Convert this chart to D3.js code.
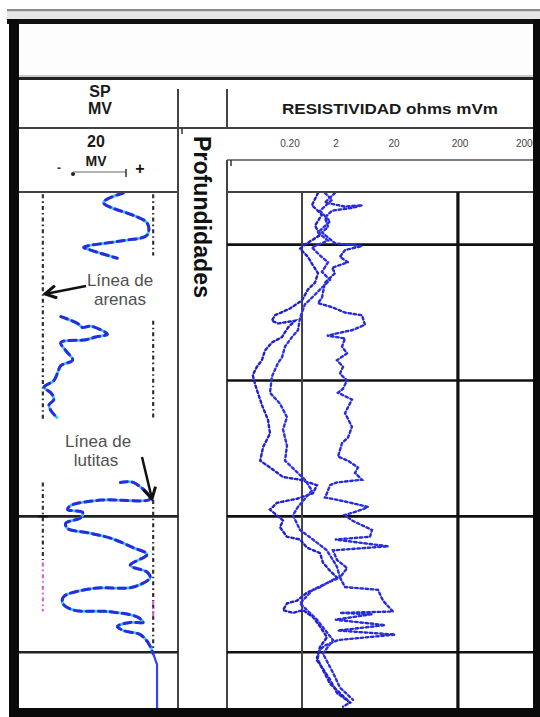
<!DOCTYPE html>
<html><head><meta charset="utf-8">
<script src="https://cdn.jsdelivr.net/npm/d3@7"></script>
<style>body{margin:0;background:#fff}svg{display:block}</style>
</head><body>
<svg id="c" width="540" height="717"></svg>
<script>
// ---------------- DATA ----------------
const depthGridLines = [5000, 5100, 5200, 5300];      // ft, resistivity track
const spGridLines = [5200, 5300];                      // ft, SP track
const resTickValues = [0.2, 2, 20, 200, 2000];         // ohm-m
const resTickLabels = ["0.20", "2", "20", "200", "2000"];
const resGridValues = [0.365, 186];                    // ohm-m vertical grid
const sandLineMV = -60;                                // Línea de arenas
const shaleLineMV = -20;                               // Línea de lutitas
const sandLineRanges = [[4963, 5129], [5175, 5232]];
const sandLineRangesPink = [[5234, 5270]];
const shaleLineRanges = [[4963, 5008], [5056, 5129], [5188, 5298]];
const shaleLineRangesPink = [[5262, 5276]];

// SP curve [depth ft, mV]
const spSeg1 = [[4962,-30.8],[4969,-38.0],[4984,-22.2],[4993,-22.2],[4997,-30.8],[5002,-45.2],[5004,-42.7],[5010,-33.0]];
const spSeg2 = [[5053,-53.5],[5058,-47.4],[5061,-45.6],[5060,-42.7],[5066,-36.6],[5068,-40.9],[5070,-44.5],[5072,-53.5],[5078,-51.7],[5085,-49.2],[5089,-53.5],[5094,-54.6],[5100,-56.0],[5105,-59.6],[5109,-57.1],[5114,-56.0],[5118,-57.8],[5122,-57.1],[5128,-54.6]];
const spSeg3 = [[5175,-31.9],[5175,-27.2],[5187,-21.1],[5188,-39.1],[5192,-49.9],[5195,-51.0],[5197,-45.6],[5201,-46.3],[5205,-51.7],[5209,-51.0],[5212,-43.8],[5216,-35.5],[5223,-27.2],[5228,-22.2],[5236,-28.3],[5241,-22.2],[5245,-21.1],[5252,-27.2],[5253,-41.6],[5259,-52.4],[5264,-52.8],[5269,-48.8],[5270,-36.6],[5274,-25.8],[5278,-23.6],[5278,-28.3],[5281,-33.0],[5284,-30.8],[5287,-24.7],[5293,-21.8],[5301,-20.0]];
const spTail = [[5301,-20.0],[5309,-18.6],[5341,-18.6]];

// Resistivity curves [depth ft, ohm-m]
const resDeep = [[4962,1.90],[4969,1.15],[4972,2.86],[4971,5.62],[4973,3.77],[4975,1.64],[4980,1.15],[4987,1.34],[4991,0.99],[4999,1.90],[5001,5.62],[5004,2.86],[5009,2.34],[5013,3.22],[5017,1.64],[5021,1.90],[5028,1.15],[5039,0.99],[5043,0.81],[5046,1.64],[5050,2.86],[5052,5.62],[5059,6.32],[5063,3.77],[5064,2.86],[5067,1.27],[5069,2.86],[5075,2.54],[5080,3.10],[5085,2.08],[5090,2.64],[5095,2.34],[5100,3.10],[5106,2.64],[5109,2.17],[5114,3.77],[5124,2.86],[5134,3.77],[5142,3.22],[5146,2.54],[5156,2.17],[5159,3.22],[5164,4.79],[5168,4.25],[5173,5.62],[5175,2.08],[5177,1.48],[5183,1.27],[5186,1.15],[5189,2.86],[5193,7.12],[5195,5.62],[5199,2.86],[5203,3.77],[5210,8.35],[5215,7.71],[5217,1.90],[5222,15.8],[5225,1.72],[5232,2.08],[5238,3.10],[5245,2.34],[5252,2.86],[5254,10.6],[5262,12.9],[5270,19.2],[5271,2.34],[5272,8.35],[5276,1.90],[5280,14.0],[5284,2.17],[5287,20.7],[5291,2.17],[5295,1.15],[5298,0.90],[5306,0.77],[5311,0.99],[5320,1.48],[5330,2.08],[5337,3.49],[5340,2.64]];
const resShallow1 = [[4962,0.81],[4971,0.60],[4978,0.99],[4986,0.70],[4993,0.90],[5000,0.42],[5003,0.33],[5009,0.49],[5014,0.60],[5021,0.81],[5028,0.70],[5033,0.49],[5041,0.365],[5047,0.20],[5052,0.094],[5056,0.081],[5058,0.11],[5056,0.257],[5061,0.181],[5068,0.134],[5072,0.081],[5078,0.057],[5085,0.049],[5090,0.038],[5096,0.031],[5103,0.035],[5109,0.040],[5118,0.049],[5129,0.0665],[5139,0.0735],[5149,0.052],[5159,0.045],[5164,0.0735],[5171,0.141],[5173,0.33],[5177,0.77],[5183,0.63],[5187,0.284],[5190,0.104],[5195,0.0735],[5203,0.141],[5208,0.121],[5215,0.172],[5217,0.33],[5223,0.47],[5227,0.90],[5234,1.04],[5240,1.48],[5245,2.08],[5252,0.90],[5256,0.47],[5262,0.284],[5264,0.172],[5269,0.141],[5271,0.232],[5269,0.383],[5274,0.63],[5281,0.90],[5289,1.27],[5296,0.90],[5304,0.77],[5313,1.04],[5323,1.48],[5330,2.34],[5337,3.49]];
const resShallow2 = [[4962,1.15],[4967,1.64],[4975,0.90],[4983,1.48],[4991,0.81],[4997,1.34],[5002,0.60],[5008,0.90],[5013,1.34],[5020,0.99],[5026,1.48],[5033,0.90],[5039,0.60],[5044,0.42],[5054,0.33],[5063,0.298],[5068,0.221],[5075,0.156],[5083,0.134],[5087,0.110],[5097,0.081],[5109,0.0735],[5117,0.121],[5127,0.172],[5136,0.141],[5148,0.172],[5159,0.156],[5166,0.257],[5173,0.42],[5181,0.60],[5187,0.42],[5193,0.298],[5199,0.232],[5210,0.33],[5217,0.63],[5225,1.27],[5237,2.08],[5245,2.34],[5249,1.27],[5254,0.63],[5264,0.33],[5276,0.77],[5291,1.72],[5301,1.04],[5315,1.72],[5326,2.34],[5335,3.93]];

// ---------------- SCALES ----------------
const y = d3.scaleLinear().domain([4962, 5341]).range([193, 708]);
const xSP = d3.scaleLinear().domain([-68.65, -11]).range([19, 178]);
const xRes = d3.scaleLog().domain(resTickValues).range([290, 336, 394, 460, 527]);

const FONT = "'Liberation Sans', Arial, sans-serif";
const svg = d3.select("#c");
const defs = svg.append("defs");
defs.append("clipPath").attr("id","clipSP").append("rect").attr("x",19).attr("y",193).attr("width",159).attr("height",515);
defs.append("clipPath").attr("id","clipRes").append("rect").attr("x",228).attr("y",193).attr("width",305).attr("height",515);
defs.append("marker").attr("id","arr").attr("viewBox","0 0 12 12").attr("refX",10).attr("refY",6)
  .attr("markerWidth",6).attr("markerHeight",6).attr("orient","auto").attr("markerUnits","strokeWidth")
  .append("path").attr("d","M1,1 L10,6 L1,11").attr("fill","none").attr("stroke","#111").attr("stroke-width",2.4);

svg.append("rect").attr("width",540).attr("height",717).attr("fill","#fff");

// top bands
svg.append("rect").attr("x",7).attr("y",9).attr("width",533).attr("height",2.5).attr("fill","#8a8a8a");
svg.append("rect").attr("x",7).attr("y",11.5).attr("width",533).attr("height",8).attr("fill","#e6e6e6");
svg.append("rect").attr("x",19).attr("y",24).attr("width",514).attr("height",52).attr("fill","#fdfdfd");
svg.append("line").attr("x1",19).attr("x2",533).attr("y1",76).attr("y2",76).attr("stroke","#999").attr("stroke-width",1);
svg.append("rect").attr("x",9).attr("y",77).attr("width",526).attr("height",3).attr("fill","#222");

const g = svg.append("g");
function hline(x1,x2,yy,w,c){ g.append("line").attr("x1",x1).attr("x2",x2).attr("y1",yy).attr("y2",yy).attr("stroke",c).attr("stroke-width",w); }
function vline(xx,y1,y2,w,c){ g.append("line").attr("x1",xx).attr("x2",xx).attr("y1",y1).attr("y2",y2).attr("stroke",c).attr("stroke-width",w); }

// header structure
vline(178, 89, 708, 2, "#444");
vline(227, 89, 128, 2, "#444");
vline(227, 160, 708, 2, "#444");
hline(19, 533, 128, 2, "#444");
hline(227, 533, 160, 1.6, "#555");
hline(19, 178, 192, 2, "#444");
hline(227, 533, 192, 2, "#444");
vline(182, 128, 134, 1.5, "#333");
vline(231, 160, 166, 1.5, "#333");

function txt(t,x,yy,size,weight,fill,anchor){ return g.append("text").attr("x",x).attr("y",yy).attr("font-family",FONT).attr("font-size",size).attr("font-weight",weight).attr("fill",fill).attr("text-anchor",anchor||"middle").text(t); }
txt("SP", 100, 97, 16, "bold", "#1a1a1a");
txt("MV", 100, 114, 16, "bold", "#1a1a1a");
txt("RESISTIVIDAD ohms mVm", 282, 114, 15, "bold", "#1a1a1a", "start").attr("textLength",216).attr("lengthAdjust","spacingAndGlyphs");
txt("20", 96, 147, 16, "bold", "#1a1a1a");
txt("MV", 96, 166, 14, "bold", "#1a1a1a");
txt("-", 59, 172, 12, "bold", "#333");
g.append("circle").attr("cx",73).attr("cy",174).attr("r",2).attr("fill","#222");
hline(73, 126, 172, 1, "#666");
vline(126, 169, 177, 1.5, "#333");
txt("+", 140, 174, 16, "bold", "#111");

// resistivity tick labels
g.selectAll(".rt").data(resTickValues).join("text")
  .attr("x", d => xRes(d)).attr("y", 147).attr("text-anchor","middle")
  .attr("font-family",FONT).attr("font-size",10).attr("fill","#444")
  .text((d,i) => resTickLabels[i]);

g.append("text").attr("transform","translate(194,217) rotate(90)")
  .attr("text-anchor","middle").attr("font-family",FONT).attr("font-size",23).attr("font-weight","bold")
  .attr("fill","#111").attr("textLength",162).attr("lengthAdjust","spacingAndGlyphs").text("Profundidades");

// ---- grid ----
depthGridLines.forEach(d => hline(227, 533, y(d), 2.6, "#111"));
spGridLines.forEach(d => hline(19, 178, y(d), 2.6, "#222"));
vline(xRes(resGridValues[0]), 192, 708, 2, "#444");
vline(xRes(resGridValues[1]), 192, 708, 3.2, "#111");

// ---- SP baselines ----
const gSP = svg.append("g").attr("clip-path","url(#clipSP)");
function baseLine(mv, ranges, color){
  ranges.forEach(r => gSP.append("line").attr("x1",xSP(mv)).attr("x2",xSP(mv)).attr("y1",y(r[0])).attr("y2",y(r[1]))
    .attr("stroke",color).attr("stroke-width",2.2).attr("stroke-dasharray","4,3,1.6,3"));
}
baseLine(sandLineMV, sandLineRanges, "#333");
baseLine(sandLineMV, sandLineRangesPink, "#e060d8");
baseLine(shaleLineMV, shaleLineRanges, "#333");
baseLine(shaleLineMV, shaleLineRangesPink, "#e060d8");
gSP.append("line").attr("x1",xSP(sandLineMV)-5).attr("x2",xSP(sandLineMV)+5).attr("y1",y(5200)).attr("y2",y(5200)).attr("stroke","#111").attr("stroke-width",2);

// ---- SP curve ----
const spLine = d3.line().x(d => xSP(d[1])).y(d => y(d[0])).curve(d3.curveCatmullRom.alpha(0.5));
[spSeg1, spSeg2, spSeg3].forEach(seg => {
  gSP.append("path").attr("d", spLine(seg)).attr("fill","none").attr("stroke","#38c8f4").attr("stroke-width",2.8).attr("stroke-linejoin","round");
  gSP.append("path").attr("d", spLine(seg)).attr("fill","none").attr("stroke","#2a2ae0").attr("stroke-width",3).attr("stroke-dasharray","7,5").attr("stroke-linecap","round");
});
gSP.append("path").attr("d", d3.line().x(d => xSP(d[1])).y(d => y(d[0]))(spTail)).attr("fill","none").attr("stroke","#3344ff").attr("stroke-width",2.2);

// ---- Resistivity curves ----
const gR = svg.append("g").attr("clip-path","url(#clipRes)");
const resLine = d3.line().x(d => xRes(d[1])).y(d => y(d[0]));
[[resDeep,"#52d2f6","#2a2ad8"],[resShallow1,"#a9bcff","#2020d0"],[resShallow2,"#8fd4fa","#2e2ee6"]].forEach(([data,base,top]) => {
  gR.append("path").attr("d", resLine(data)).attr("fill","none").attr("stroke",base).attr("stroke-width",1).attr("stroke-opacity",0.8).attr("stroke-linejoin","round");
  gR.append("path").attr("d", resLine(data)).attr("fill","none").attr("stroke",top).attr("stroke-width",2.4).attr("stroke-dasharray","2.4,2.8").attr("stroke-linecap","round");
});

// ---- annotations ----
txt("Línea de", 120, 286, 17, "normal", "#505050");
txt("arenas", 120, 305, 17, "normal", "#505050");
g.append("line").attr("x1",86).attr("y1",286).attr("x2",45).attr("y2",294).attr("stroke","#111").attr("stroke-width",2.5).attr("marker-end","url(#arr)");
const gA = svg.append("g");
gA.append("text").attr("x",98).attr("y",447).attr("text-anchor","middle").attr("font-family",FONT).attr("font-size",17).attr("fill","#505050").text("Línea de");
gA.append("text").attr("x",96).attr("y",466).attr("text-anchor","middle").attr("font-family",FONT).attr("font-size",17).attr("fill","#505050").text("lutitas");
gA.append("line").attr("x1",142).attr("y1",457).attr("x2",152).attr("y2",499).attr("stroke","#111").attr("stroke-width",2.5).attr("marker-end","url(#arr)");

// ---- outer frame ----
svg.append("rect").attr("x",7).attr("y",19).attr("width",533).attr("height",5).attr("fill","#111");
svg.append("rect").attr("x",9).attr("y",19).attr("width",10).attr("height",698).attr("fill","#0a0a0a");
svg.append("rect").attr("x",533).attr("y",19).attr("width",7).attr("height",698).attr("fill","#0a0a0a");
svg.append("rect").attr("x",9).attr("y",708).attr("width",531).attr("height",9).attr("fill","#0a0a0a");
</script>
</body></html>
